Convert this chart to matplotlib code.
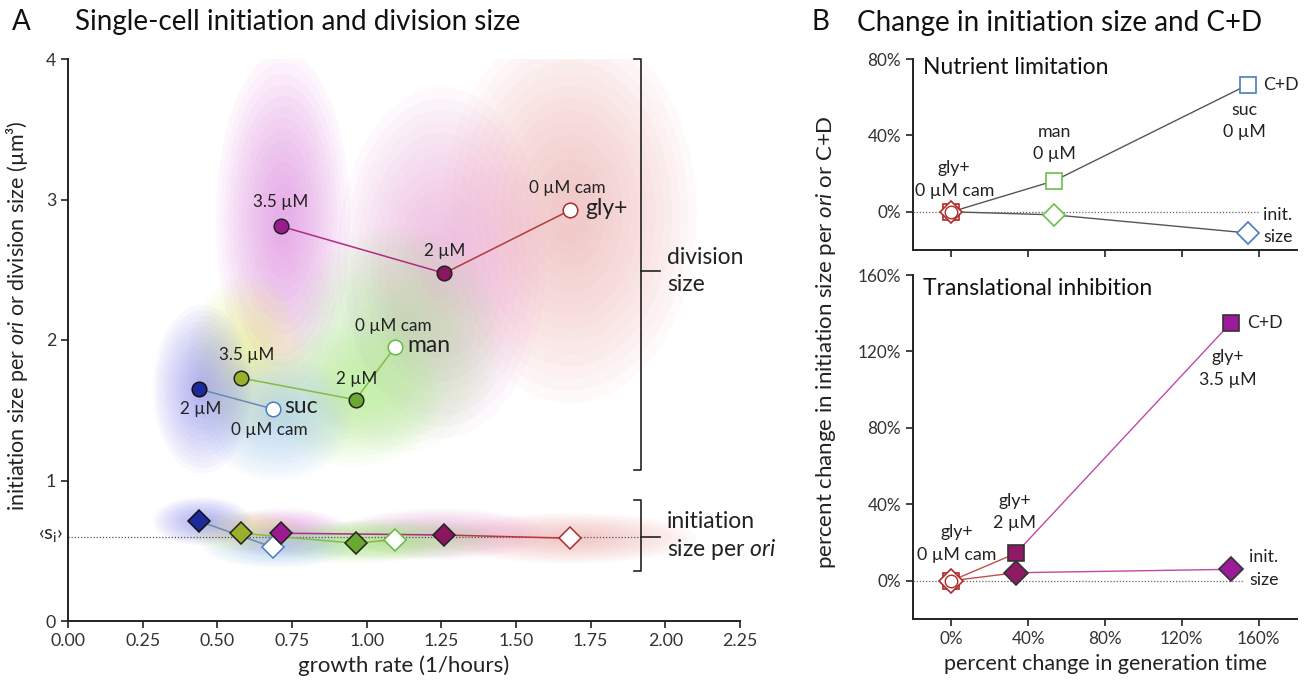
import matplotlib
matplotlib.use("Agg")
import matplotlib.pyplot as plt
from matplotlib.patches import Ellipse
from matplotlib.ticker import FuncFormatter

plt.rcParams['font.family'] = ['Lato', 'DejaVu Sans']
plt.rcParams['mathtext.fontset'] = 'custom'
plt.rcParams['mathtext.rm'] = 'Lato'
plt.rcParams['mathtext.it'] = 'Lato:italic'

# ---------------- Panel A data ----------------
suc_growth = [0.44, 0.685]
suc_div = [1.65, 1.51]
suc_init = [0.71, 0.525]
man_growth = [0.578, 0.963, 1.095]
man_div = [1.73, 1.575, 1.95]
man_init = [0.625, 0.553, 0.58]
gly_growth = [0.712, 1.26, 1.682]
gly_div = [2.81, 2.475, 2.925]
gly_init = [0.625, 0.612, 0.589]
mean_init = 0.6

# approximate single-cell clouds (centre and extent)
cloud_names = ['gly+ 0', 'gly+ 2', 'gly+ 3.5', 'man 0', 'man 2', 'man 3.5', 'suc 0', 'suc 2']
cloud_colors = ['#f0a8a8', '#e89ad2', '#dc78dc', '#a8e890', '#b8f090', '#e4f27c', '#a0c8f2', '#8486f0']
cloud_x = [1.68, 1.25, 0.72, 1.10, 0.95, 0.60, 0.70, 0.45]
cloud_w = [0.85, 0.70, 0.45, 0.70, 0.60, 0.40, 0.50, 0.33]
cloud_div_y = [2.90, 2.55, 2.85, 2.00, 1.60, 1.85, 1.45, 1.65]
cloud_div_h = [2.70, 2.50, 2.40, 1.60, 1.00, 1.20, 0.90, 1.20]
cloud_init_y = [0.59, 0.62, 0.63, 0.58, 0.56, 0.63, 0.53, 0.71]
cloud_init_h = [0.36, 0.36, 0.34, 0.30, 0.30, 0.30, 0.30, 0.34]

xticks_A = [0.0, 0.25, 0.5, 0.75, 1.0, 1.25, 1.5, 1.75, 2.0, 2.25]
yticks_A = [0, 1, 2, 3, 4]

# ---------------- Panel B data ----------------
nut_gen = [0, 53.5, 154.6]
nut_cd = [0, 16.2, 66.6]
nut_init = [0, -1.6, -11.1]
tra_gen = [0, 33.5, 145.5]
tra_cd = [0, 14.3, 134.9]
tra_init = [0, 4.2, 6.0]
xticks_B = [0, 40, 80, 120, 160]
yticks_B_top = [0, 40, 80]
yticks_B_bot = [0, 40, 80, 120, 160]

W, H = 1311, 681
fig = plt.figure(figsize=(W / 100, H / 100), dpi=100)

def fx(px):
    return px / W

def fy(py):
    return 1 - py / H

axA = fig.add_axes([fx(68), fy(621), fx(740) - fx(68), fy(59) - fy(621)])
axT = fig.add_axes([fx(913), fy(250), fx(1297) - fx(913), fy(59) - fy(250)])
axB = fig.add_axes([fx(913), fy(619), fx(1297) - fx(913), fy(275) - fy(619)])

TC = '#222222'
for ax in (axA, axT, axB):
    for s in ('top', 'right'):
        ax.spines[s].set_visible(False)
    for s in ('left', 'bottom'):
        ax.spines[s].set_linewidth(1.4)
        ax.spines[s].set_color(TC)
    ax.tick_params(direction='out', length=5, width=1.2, color=TC,
                   labelsize=12.3, labelcolor='#333333')
axA.tick_params(labelsize=12.8)

# ---------- Panel A ----------
axA.set_xlim(0, 2.25)
axA.set_ylim(0, 4)
axA.set_xticks(xticks_A)
axA.set_xticklabels([f'{v:.2f}' for v in xticks_A])
axA.set_yticks(yticks_A)
axA.set_xlabel('growth rate (1/hours)', fontsize=16, color='#222222', labelpad=5)

nlay = 14
for i in range(len(cloud_names)):
    for k in range(nlay):
        s = 1.0 - k * 0.065
        for cy, ch in ((cloud_div_y[i], cloud_div_h[i]), (cloud_init_y[i], cloud_init_h[i])):
            e = Ellipse((cloud_x[i], cy), cloud_w[i] * s, ch * s,
                        facecolor=cloud_colors[i], edgecolor='none', alpha=0.055, zorder=1)
            axA.add_patch(e)

axA.plot([0, 1.919], [mean_init, mean_init], ls=(0, (1, 1.5)), lw=0.9, color='#555555', zorder=2)

blue_line = '#6a8ab8'
green_line = '#86bb44'
mag_line = '#b02a86'
red_line = '#b53a3a'

axA.plot(suc_growth, suc_div, color=blue_line, lw=1.1, zorder=3)
axA.plot(man_growth, man_div, color=green_line, lw=1.1, zorder=3)
axA.plot(gly_growth[:2], gly_div[:2], color=mag_line, lw=1.1, zorder=3)
axA.plot(gly_growth[1:], gly_div[1:], color=red_line, lw=1.1, zorder=3)
axA.plot(suc_growth, suc_init, color=blue_line, lw=1.1, zorder=3)
axA.plot(man_growth, man_init, color=green_line, lw=1.1, zorder=3)
axA.plot(gly_growth[:2], gly_init[:2], color=mag_line, lw=1.1, zorder=3)
axA.plot(gly_growth[1:], gly_init[1:], color=red_line, lw=1.1, zorder=3)

suc_fc = ['#1c2a9c', 'white']
suc_ec = ['#111111', '#4a7cc0']
man_fc = ['#98b02c', '#6aa832', 'white']
man_ec = ['#222222', '#222222', '#66bb44']
gly_fc = ['#9c1c90', '#8a165e', 'white']
gly_ec = ['#222222', '#222222', '#b02a2a']

for xs, ys, yi, fcs, ecs in ((suc_growth, suc_div, suc_init, suc_fc, suc_ec),
                             (man_growth, man_div, man_init, man_fc, man_ec),
                             (gly_growth, gly_div, gly_init, gly_fc, gly_ec)):
    for x, y, y2, fc, ec in zip(xs, ys, yi, fcs, ecs):
        axA.plot(x, y, 'o', ms=10.5, mfc=fc, mec=ec, mew=1.1, zorder=4)
        axA.plot(x, y2, 'D', ms=11, mfc=fc, mec=ec, mew=1.1, zorder=4)

lab = dict(fontsize=12.3, color='#222222', ha='center', va='center', zorder=5)
big = dict(fontsize=16.5, color='#222222', ha='left', va='center', zorder=5)
axA.text(gly_growth[0], gly_div[0] + 0.17, '3.5 µM', **lab)
axA.text(gly_growth[1], gly_div[1] + 0.16, '2 µM', **lab)
axA.text(gly_growth[2] - 0.01, gly_div[2] + 0.16, '0 µM cam', **lab)
axA.text(gly_growth[2] + 0.05, gly_div[2] + 0.01, 'gly+', **big)
axA.text(man_growth[0] + 0.02, man_div[0] + 0.16, '3.5 µM', **lab)
axA.text(man_growth[1] + 0.005, man_div[1] + 0.15, '2 µM', **lab)
axA.text(man_growth[2] - 0.005, man_div[2] + 0.15, '0 µM cam', **lab)
axA.text(man_growth[2] + 0.04, man_div[2] + 0.01, 'man', **big)
axA.text(suc_growth[0] + 0.005, suc_div[0] - 0.14, '2 µM', **lab)
axA.text(suc_growth[1] - 0.01, suc_div[1] - 0.15, '0 µM cam', **lab)
axA.text(suc_growth[1] + 0.04, suc_div[1] + 0.02, 'suc', **big)

# brackets
bx, bcap, btick = 1.919, 1.895, 1.983
bk = dict(color='#222222', lw=1.2, clip_on=False, zorder=5)
axA.plot([bcap, bx, bx, bcap], [4.0, 4.0, 1.075, 1.075], **bk)
axA.plot([bx, btick], [2.49, 2.49], **bk)
axA.plot([bcap, bx, bx, bcap], [0.86, 0.86, 0.355, 0.355], **bk)
axA.plot([bx, btick], [mean_init, mean_init], **bk)
axA.text(2.005, 2.49, 'division\nsize', fontsize=16.5, color='#222222', ha='left', va='center',
         linespacing=1.35)
axA.text(2.005, mean_init, 'initiation\nsize per $\\mathit{ori}$', fontsize=16.5, color='#222222',
         ha='left', va='center', linespacing=1.25)
axA.text(-0.058, mean_init + 0.01, '‹s$_{\\mathregular{i}}$›', fontsize=14.5, color='#222222',
         ha='center', va='center', clip_on=False)

fig.text(fx(17.5), fy(316), 'initiation size per $\\mathit{ori}$ or division size (µm³)',
         rotation=90, fontsize=15.5, color='#222222', ha='center', va='center')

# ---------- Panel B ----------
pct = FuncFormatter(lambda v, p: f'{v:.0f}%')
for ax, yt, yl in ((axT, yticks_B_top, (-20, 80)), (axB, yticks_B_bot, (-20, 160))):
    ax.set_xlim(-20, 180)
    ax.set_ylim(*yl)
    ax.set_xticks(xticks_B)
    ax.set_yticks(yt)
    ax.yaxis.set_major_formatter(pct)
    ax.xaxis.set_major_formatter(pct)
axT.set_xticklabels([])
axB.set_xlabel('percent change in generation time', fontsize=15.5, color='#222222', labelpad=5)

axT.plot([-20, 160], [0, 0], ls=(0, (1, 1.5)), lw=0.9, color='#666666', zorder=1)
axB.plot([-20, 152], [0, 0], ls=(0, (1, 1.5)), lw=0.9, color='#666666', zorder=1)

gray = '#555555'
axT.plot(nut_gen, nut_cd, color=gray, lw=1.0, zorder=2)
axT.plot(nut_gen, nut_init, color=gray, lw=1.0, zorder=2)
nut_ec = ['#b02a2a', '#6abf4a', '#4a7cc0']
for x, yc, yi, ec in zip(nut_gen, nut_cd, nut_init, nut_ec):
    axT.plot(x, yc, 's', ms=11.5, mfc='white', mec=ec, mew=1.2, zorder=3)
    axT.plot(x, yi, 'D', ms=11.5, mfc='white', mec=ec, mew=1.2, zorder=3)
axT.plot(0, 0, 'o', ms=9, mfc='white', mec='#b02a2a', mew=1.0, zorder=4)

axB.plot(tra_gen[:2], tra_cd[:2], color='#c0504a', lw=1.0, zorder=2)
axB.plot(tra_gen[:2], tra_init[:2], color='#c0504a', lw=1.0, zorder=2)
axB.plot(tra_gen[1:], tra_cd[1:], color='#c04aa2', lw=1.0, zorder=2)
axB.plot(tra_gen[1:], tra_init[1:], color='#c04aa2', lw=1.0, zorder=2)
tra_fc = ['white', '#8e1a66', '#9b1b9b']
tra_ec = ['#b02a2a', '#333333', '#333333']
for x, yc, yi, fc, ec in zip(tra_gen, tra_cd, tra_init, tra_fc, tra_ec):
    axB.plot(x, yc, 's', ms=12, mfc=fc, mec=ec, mew=1.2, zorder=3)
    axB.plot(x, yi, 'D', ms=12, mfc=fc, mec=ec, mew=1.2, zorder=3)
axB.plot(0, 0, 'o', ms=9, mfc='white', mec='#b02a2a', mew=1.0, zorder=4)

bl = dict(fontsize=12.8, color='#222222', ha='center', va='center', linespacing=1.5)
bll = dict(fontsize=12.8, color='#222222', ha='left', va='center', linespacing=1.5)
axT.text(0.026, 0.953, 'Nutrient limitation', transform=axT.transAxes, fontsize=16.5,
         color='#111111', ha='left', va='center')
axT.text(1.5, 17, 'gly+\n0 µM cam', **bl)
axT.text(53.5, 36, 'man\n0 µM', **bl)
axT.text(152.7, 47.5, 'suc\n0 µM', **bl)
axT.text(162.5, 66.6, 'C+D', **bll)
axT.text(162.5, -7.5, 'init.\nsize', **bll)

axB.text(0.026, 0.962, 'Translational inhibition', transform=axB.transAxes, fontsize=16.5,
         color='#111111', ha='left', va='center')
axB.text(3, 19.5, 'gly+\n0 µM cam', **bl)
axB.text(33, 36, 'gly+\n2 µM', **bl)
axB.text(144, 111, 'gly+\n3.5 µM', **bl)
axB.text(154, 134.9, 'C+D', **bll)
axB.text(155, 6.5, 'init.\nsize', **bll)

fig.text(fx(826), fy(342), 'percent change in initiation size per $\\mathit{ori}$ or C+D',
         rotation=90, fontsize=16, color='#222222', ha='center', va='center')

# panel titles
tk = dict(fontsize=20, color='#111111', ha='left', va='baseline')
fig.text(fx(12), fy(30), 'A', **tk)
fig.text(fx(75), fy(30), 'Single-cell initiation and division size', **tk)
fig.text(fx(812), fy(30.5), 'B', **tk)
fig.text(fx(857), fy(30.5), 'Change in initiation size and C+D', **tk)

fig.savefig('out.png', dpi=100)
